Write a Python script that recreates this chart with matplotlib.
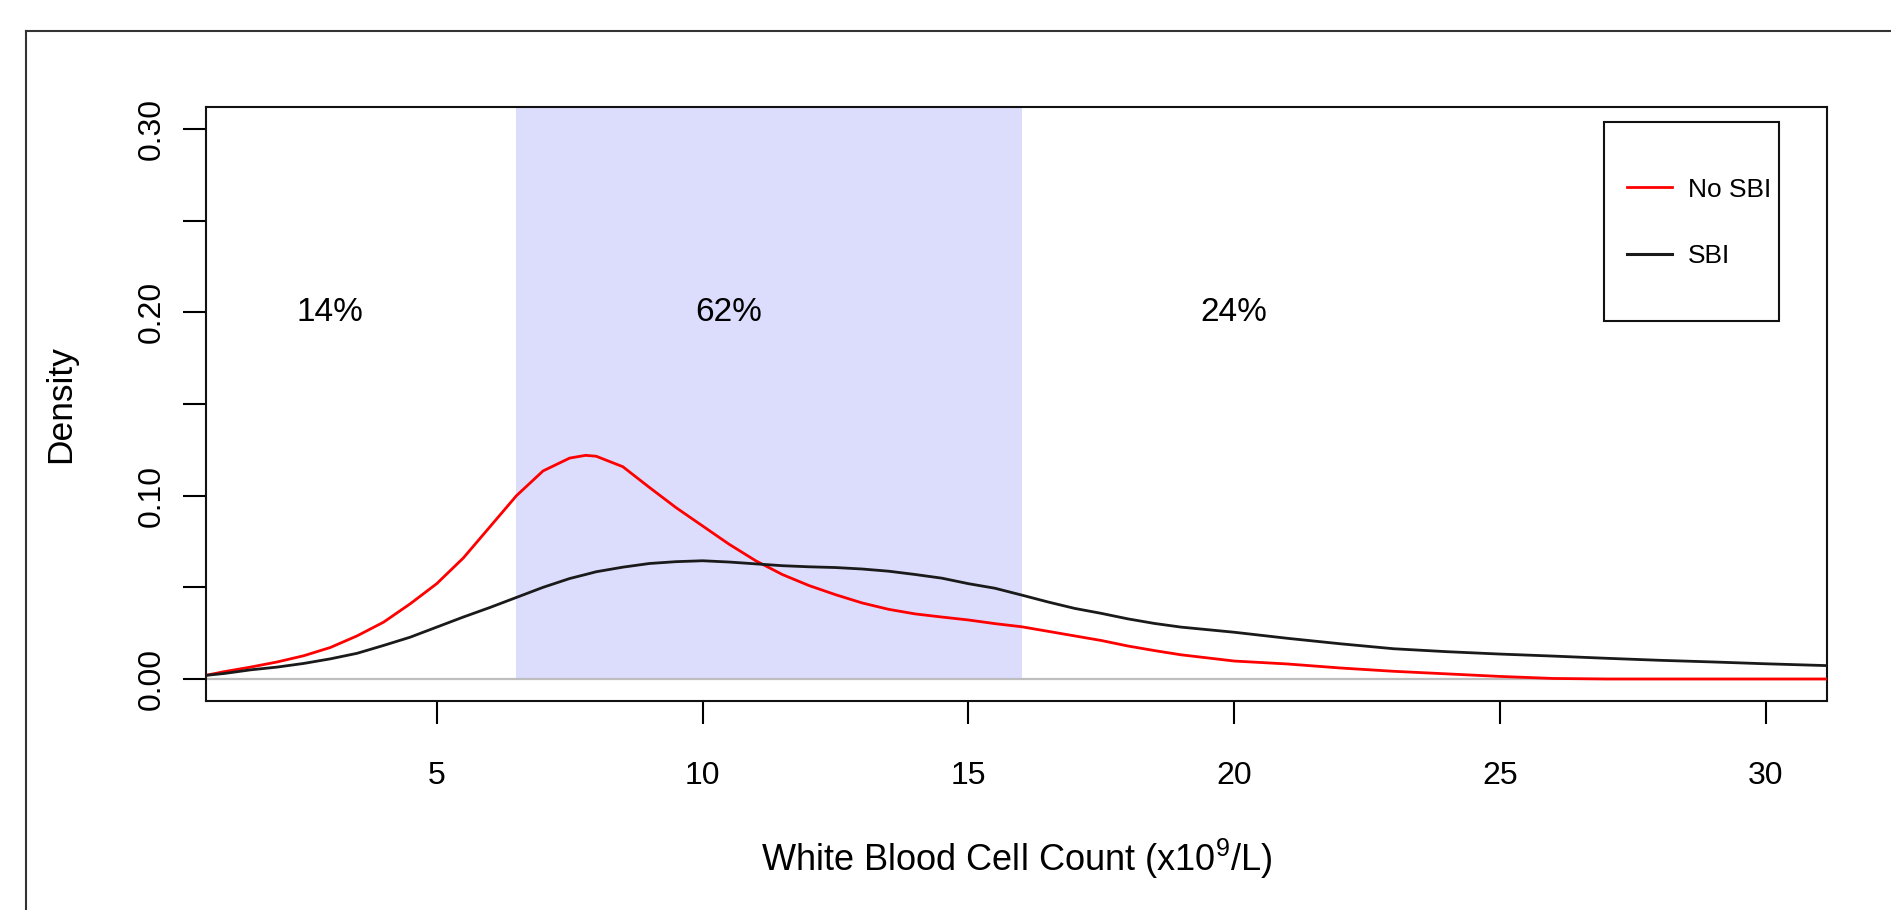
import numpy as np
import matplotlib
matplotlib.use("Agg")
import matplotlib.pyplot as plt
from matplotlib.lines import Line2D
from matplotlib.patches import Rectangle

plt.rcParams['font.family'] = ['Liberation Sans', 'DejaVu Sans']
plt.rcParams['mathtext.fontset'] = 'custom'
plt.rcParams['mathtext.rm'] = 'Liberation Sans'
plt.rcParams['mathtext.it'] = 'Liberation Sans'

# density curves
wbc = [0.66, 1.0, 1.5, 2.0, 2.5, 3.0, 3.5, 4.0, 4.5, 5.0, 5.5, 6.0, 6.5, 7.0, 7.5, 7.8,
       8.0, 8.5, 9.0, 9.5, 10.0, 10.5, 11.0, 11.5, 12.0, 12.5, 13.0, 13.5, 14.0, 14.5,
       15.0, 15.5, 16.0, 16.5, 17.0, 17.5, 18.0, 18.5, 19.0, 20.0, 21.0, 22.0, 23.0,
       24.0, 25.0, 26.0, 27.0, 28.0, 29.0, 30.0, 31.15]
no_sbi = [0.002, 0.004, 0.0065, 0.0093, 0.0127, 0.0172, 0.0235, 0.031, 0.041, 0.052, 0.066,
          0.083, 0.1, 0.1135, 0.1205, 0.122, 0.1215, 0.1158, 0.1045, 0.0935, 0.0835, 0.0735,
          0.0645, 0.057, 0.051, 0.046, 0.0415, 0.038, 0.0355, 0.0338, 0.0322, 0.0302, 0.0285,
          0.026, 0.0235, 0.021, 0.018, 0.0155, 0.0132, 0.0098, 0.0082, 0.006, 0.0042, 0.0028,
          0.0014, 0.0003, 0.0, 0.0, 0.0, 0.0, 0.0]
sbi = [0.002, 0.003, 0.005, 0.0065, 0.0085, 0.011, 0.014, 0.0183, 0.0228, 0.0283, 0.0338,
       0.039, 0.0445, 0.050, 0.0548, 0.057, 0.0585, 0.061, 0.063, 0.064, 0.0645, 0.0638,
       0.0628, 0.0618, 0.0612, 0.0608, 0.0600, 0.0588, 0.057, 0.055, 0.052, 0.0495, 0.0458,
       0.042, 0.0385, 0.0358, 0.0328, 0.0303, 0.0283, 0.0255, 0.0222, 0.0192, 0.0165, 0.0149,
       0.0136, 0.0125, 0.0113, 0.0102, 0.0093, 0.0083, 0.0073]

band = [6.5, 16.0]
pct_x = [3.0, 10.5, 20.0]
pct_labels = ['14%', '62%', '24%']
pct_y = 0.2

xticks = [5, 10, 15, 20, 25, 30]
yticks = [0.0, 0.05, 0.10, 0.15, 0.20, 0.25, 0.30]
ytick_labels = ['0.00', '', '0.10', '', '0.20', '', '0.30']

W, H = 1891, 910
fig = plt.figure(figsize=(W / 100, H / 100), dpi=100)
ax = fig.add_axes([206 / W, 1 - 701 / H, (1827 - 206) / W, (701 - 107) / H])

ylim = (-0.012, 0.312)
ax.set_xlim(wbc[0], wbc[-1])
ax.set_ylim(*ylim)

# shaded middle band and zero line
ax.fill_between(band, 0, ylim[1], color='#DCDCFD', lw=0, zorder=1)
ax.axhline(0, color='#BEBEBE', lw=1.6, zorder=2)

ax.plot(wbc, no_sbi, color='#FF0000', lw=2.0, zorder=3)
ax.plot(wbc, sbi, color='#1a1a1a', lw=2.0, zorder=3)

for x, s in zip(pct_x, pct_labels):
    ax.text(x, pct_y, s, ha='center', va='center', fontsize=24)

ax.set_xticks(xticks)
ax.set_xticklabels([str(t) for t in xticks])
ax.set_yticks(yticks)
ax.set_yticklabels(ytick_labels, rotation=90, va='center')
ax.tick_params(axis='both', direction='out', length=16.5, width=1.5, labelsize=23)
ax.tick_params(axis='x', pad=27)
ax.tick_params(axis='y', pad=12)
for sp in ax.spines.values():
    sp.set_linewidth(1.5)
    sp.set_color('#111111')

ax.set_xlabel('White Blood Cell Count (x10$^9$/L)', fontsize=26)
ax.xaxis.label.set_va('baseline')
ax.xaxis.set_label_coords(0.5, (701 - 871) / 594)
ax.set_ylabel('Density', fontsize=25.5)
ax.yaxis.label.set_va('baseline')
ax.yaxis.set_label_coords((70 - 206) / 1621, 0.5)

# legend: box drawn separately, entries from the legend
box = Rectangle((0.8624, 0.6397), 0.9704 - 0.8624, 0.9747 - 0.6397, transform=ax.transAxes,
                fill=False, edgecolor='#111111', lw=1.5, zorder=5)
ax.add_patch(box)
handles = [Line2D([], [], color='#FF0000', lw=2.0), Line2D([], [], color='#1a1a1a', lw=2.2)]
ax.legend(handles, ['No SBI', 'SBI'], loc='center left', bbox_to_anchor=(0.8685, 0.805),
          frameon=False, fontsize=19, borderpad=0, handlelength=1.7, handletextpad=0.62,
          labelspacing=1.6)

# outer frame (only top and left edges fall inside the picture)
fig.add_artist(Line2D([26 / W, 26 / W], [0, 1 - 31 / H], color='#333333', lw=1.5))
fig.add_artist(Line2D([26 / W, 1], [1 - 31 / H, 1 - 31 / H], color='#333333', lw=1.5))

fig.savefig('out.png', dpi=100)
